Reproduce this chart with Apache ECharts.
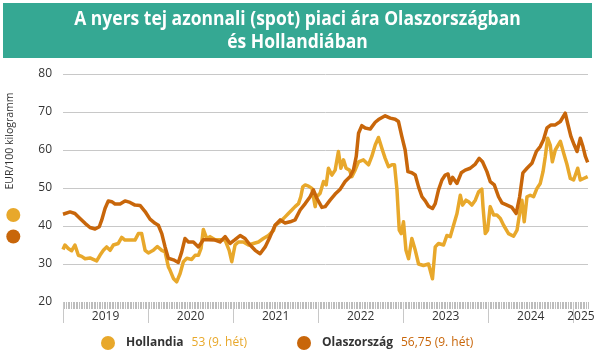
<!DOCTYPE html>
<html>
<head>
<meta charset="utf-8">
<script src="https://cdn.jsdelivr.net/npm/echarts@6/dist/echarts.min.js"></script>
<style>
  html, body { margin: 0; padding: 0; background: #fff; }
  #chart { width: 598px; height: 352px; }
</style>
</head>
<body>
<div id="chart"></div>
<script>
// weeks counted from 2019 week 1 (52 weeks per year), values in EUR/100 kg
var years = ['2019', '2020', '2021', '2022', '2023', '2024', '2025'];
var yTicks = [20, 30, 40, 50, 60, 70, 80];

var hollandWeeks = [0, 1.2, 3.2, 5.3, 7.3, 9.4, 11.4, 13.5, 16.5, 18.5, 20.6, 22.6, 24.7, 26.7, 28.8, 30.8, 33.8, 35.9, 37.9, 41, 44, 46.1, 48.1, 50.2, 52.2, 55.2, 57.7, 60.4, 62.4, 64.4, 65.4, 67.5, 69.5, 71.6, 73.6, 75.7, 78.7, 80.8, 82.8, 84.4, 85.8, 87.9, 89.9, 93, 96, 99.1, 101.6, 103.2, 105.2, 107.2, 110.3, 113.4, 116.4, 119.5, 122.5, 125.6, 128.7, 129.7, 132.8, 135.8, 137.8, 139.9, 141.9, 144, 145.4, 146.6, 148.1, 150.1, 152.2, 154.2, 155.2, 157.2, 159.3, 160.9, 162.3, 164.4, 166.4, 168.4, 169.9, 171.5, 173.1, 175.2, 176.6, 178.6, 180.7, 183.7, 186.8, 188.8, 190.9, 192.9, 195.3, 197, 199, 201.1, 202.7, 204.2, 205.6, 206.8, 208.2, 209.7, 211.3, 213.3, 215.4, 217.4, 220.4, 223.5, 225.9, 227.6, 229.6, 232.7, 234.7, 236.8, 238.8, 240.9, 242.9, 244.3, 246.4, 248, 250, 252.1, 254.1, 256.1, 256.8, 258.2, 259.6, 261.2, 263.3, 265.3, 267.4, 269.4, 272.4, 275.5, 277.6, 279.2, 280.6, 282, 283.7, 285.7, 287.7, 289.8, 291.8, 293.5, 294.9, 296.3, 297.9, 299.2, 301, 304.1, 306.1, 308.2, 310.2, 312.2, 314.7, 316.3, 318.3, 320.8];
var hollandValues = [33.8, 35, 34.1, 33.5, 35, 32.3, 32, 31.4, 31.6, 31.2, 30.8, 32.3, 33.6, 34.5, 33.6, 35, 35.4, 37, 36.3, 36.3, 36.3, 38, 38, 33.6, 32.9, 33.6, 34.6, 33.6, 33.2, 29.3, 28.4, 26.2, 25.3, 27.5, 30.6, 31.5, 31.2, 32.3, 32.3, 34.1, 39.1, 36.7, 37.2, 36.4, 36.4, 36.3, 33.6, 30.6, 35, 35.8, 35.8, 35, 35.4, 35.8, 36.7, 37.5, 38.8, 40.2, 41.1, 42.4, 43.3, 44.2, 45.1, 45.9, 47.7, 50.3, 50.8, 50.5, 49.9, 45.1, 47.7, 48.6, 51.7, 50.8, 55.2, 53.4, 54.7, 59.6, 55.2, 57.4, 55.2, 54.7, 53, 54.7, 56.9, 57.4, 56.1, 58.3, 61.3, 63.3, 60, 57.8, 55.6, 56.1, 56.1, 49.5, 38.9, 38, 41.1, 33.6, 31.4, 36.7, 33.6, 30, 29.6, 30, 26.1, 34.5, 35.4, 35, 37.5, 37.2, 40.2, 43.3, 48.1, 45.5, 46.8, 46.4, 45.5, 46.8, 49, 49.7, 45.1, 38, 38.9, 45.1, 42.9, 42.9, 42, 40.2, 38, 37.3, 38.9, 43.3, 46.8, 41.1, 47.7, 48.1, 47.7, 49.9, 51.2, 54.3, 58.3, 63.1, 61.3, 56.9, 60, 62.3, 59.2, 56.1, 52.5, 52.1, 55.2, 52.1, 52.5, 53];

var olaszWeeks = [0, 4.3, 7.3, 10.4, 13.5, 16.5, 19.6, 22.2, 23.7, 25.7, 27.7, 29.8, 31.8, 34.9, 37.9, 41, 44, 47.1, 50.2, 53.2, 56.3, 58.3, 60.4, 62.4, 64.4, 67.5, 70.5, 72.6, 74.6, 76.7, 79.7, 82.8, 85.8, 88.9, 93, 96, 99.1, 102.2, 105.2, 108.3, 111.3, 114.4, 117.5, 120.5, 123.6, 126.6, 129.7, 132.8, 135.8, 138.9, 141.9, 145, 148.1, 151.1, 153.1, 155.2, 158.3, 160.3, 163.3, 166.4, 169.5, 172.5, 175.6, 177.6, 179.3, 180.7, 182.7, 184.8, 187.8, 190.9, 192.9, 197, 200.1, 203.1, 205.1, 207.2, 209.2, 210.9, 213.3, 215.4, 217.4, 219.5, 221.5, 223.5, 225.9, 227.6, 229.6, 231.7, 233.7, 235.4, 236.8, 238.2, 240.9, 243.5, 245.9, 249, 252.1, 254.5, 256.5, 259.2, 261.2, 263.7, 266.3, 268.4, 271.5, 274.5, 277.1, 279.2, 281.2, 283.7, 286.7, 289.4, 291.8, 293.8, 295.9, 298.4, 301, 304.1, 307.1, 308.5, 310.6, 312.6, 314.3, 316.3, 317.9, 319.4, 320.8];
var olaszValues = [43.1, 43.7, 43.3, 42, 40.7, 39.6, 39.2, 39.8, 41.6, 44.6, 46.6, 46.4, 45.8, 45.8, 46.6, 46.2, 45.5, 45.4, 43.8, 41.8, 40.7, 40.2, 38, 34.5, 31.5, 31.1, 30.4, 33.2, 36.7, 35.8, 35.8, 34.5, 36.4, 36.4, 36.3, 35.8, 37.2, 35.4, 36.4, 37.5, 36.7, 35, 33.6, 32.7, 34.5, 37.2, 40.2, 41.6, 40.8, 41.1, 41.6, 44.2, 45.9, 47.7, 49.5, 47.3, 44.9, 45.1, 46.8, 48.4, 49.7, 51.7, 53, 54.8, 58.3, 64.4, 66.4, 65.8, 65.5, 67.3, 68, 69, 68.4, 68.1, 67.5, 63.5, 60, 54.3, 54, 53.4, 50.3, 47.7, 46.6, 45.2, 44.6, 45.9, 49.5, 52.1, 53.4, 53.7, 51.2, 52.8, 51.2, 54, 54.7, 55.2, 56.3, 57.8, 56.9, 54.3, 51.7, 50.8, 47.7, 46.1, 45.5, 44.9, 43.3, 47.7, 54, 55.2, 56.5, 59.6, 60.9, 62.7, 65.8, 66.6, 66.6, 67.5, 69.7, 67.1, 63.5, 61.3, 59.6, 63.1, 60.9, 58.3, 56.75];

var lastWeekLabel = '9. hét';
var colorHolland = '#E8A82B';
var colorOlasz = '#C8660A';

function pairs(xs, ys) {
  return xs.map(function (x, i) { return [x, ys[i]]; });
}
function huNum(v) {
  return String(v).replace('.', ',');
}

var totalWeeks = 321;
var yearStarts = years.map(function (y, i) { return i * 52; });
var yearLabelPos = years.map(function (y, i) {
  return i < years.length - 1 ? i * 52 + 26 : 316.7;
});

var chart = echarts.init(document.getElementById('chart'));
var font = '"Open Sans", sans-serif';

var option = {
  backgroundColor: '#fff',
  animation: false,
  textStyle: { fontFamily: font },
  grid: { left: 63, right: 10, top: 74, bottom: 50 },
  legend: {
    left: 101,
    top: 336,
    padding: 0,
    icon: 'circle',
    itemWidth: 14,
    itemHeight: 14,
    itemGap: 50,
    data: ['Hollandia', 'Olaszország'],
    formatter: function (name) {
      if (name === 'Hollandia') {
        return '{n|Hollandia}{h|' + huNum(hollandValues[hollandValues.length - 1]) + ' (' + lastWeekLabel + ')}';
      }
      return '{n|Olaszország}{o|' + huNum(olaszValues[olaszValues.length - 1]) + ' (' + lastWeekLabel + ')}';
    },
    textStyle: {
      fontFamily: font,
      padding: [0, 0, 0, 6],
      rich: {
        n: { fontFamily: font, fontSize: 12, fontWeight: 'bold', color: '#333', padding: [0, 8, 0, 0] },
        h: { fontFamily: font, fontSize: 12, color: colorHolland },
        o: { fontFamily: font, fontSize: 12, color: colorOlasz }
      }
    }
  },
  xAxis: [
    {
      type: 'value',
      position: 'bottom',
      offset: 0,
      min: 0,
      max: totalWeeks,
      interval: 1,
      axisLine: { show: false },
      axisTick: { show: true, length: 7, lineStyle: { color: '#bdbdbd', width: 1 } },
      axisLabel: { show: false },
      splitLine: { show: false }
    },
    {
      type: 'value',
      position: 'bottom',
      offset: 0,
      min: 0,
      max: totalWeeks,
      axisLine: { show: false },
      axisTick: { show: true, length: 21, customValues: yearStarts, lineStyle: { color: '#c8c8c8', width: 1 } },
      axisLabel: {
        show: true,
        customValues: yearLabelPos,
        margin: 9,
        fontSize: 12,
        color: '#333',
        fontFamily: font,
        formatter: function (v) { return years[Math.floor(v / 52)]; }
      },
      splitLine: { show: false }
    }
  ],
  yAxis: {
    type: 'value',
    min: yTicks[0],
    max: yTicks[yTicks.length - 1],
    interval: 10,
    axisLine: { show: false },
    axisTick: { show: false },
    axisLabel: { fontSize: 12, color: '#333', margin: 11, fontFamily: font },
    splitLine: { show: true, showMinLine: false, lineStyle: { color: '#c8c8c8', width: 1 } }
  },
  series: [
    {
      name: 'Hollandia',
      type: 'line',
      xAxisIndex: 0,
      data: pairs(hollandWeeks, hollandValues),
      showSymbol: false,
      itemStyle: { color: colorHolland },
      lineStyle: { color: colorHolland, width: 3.5, join: 'round' }
    },
    {
      name: 'Olaszország',
      type: 'line',
      xAxisIndex: 0,
      data: pairs(olaszWeeks, olaszValues),
      showSymbol: false,
      itemStyle: { color: colorOlasz },
      lineStyle: { color: colorOlasz, width: 3.5, join: 'round' }
    }
  ],
  graphic: [
    { type: 'rect', left: 3, top: 3, shape: { width: 589, height: 55 }, style: { fill: '#35A893' } },
    {
      type: 'text', x: 297.5, y: 20, scaleX: 0.92,
      style: { text: 'A nyers tej azonnali (spot) piaci ára Olaszországban', fill: '#fff', font: 'bold 19px "Open Sans"', textAlign: 'center', textVerticalAlign: 'middle' }
    },
    {
      type: 'text', x: 297.5, y: 43, scaleX: 0.92,
      style: { text: 'és Hollandiában', fill: '#fff', font: 'bold 19px "Open Sans"', textAlign: 'center', textVerticalAlign: 'middle' }
    },
    {
      type: 'text', x: 10, y: 141, rotation: Math.PI / 2,
      style: { text: 'EUR/100 kilogramm', fill: '#333', font: '10.5px "Open Sans"', textAlign: 'center', textVerticalAlign: 'middle' }
    },
    { type: 'circle', shape: { cx: 13.3, cy: 215, r: 7 }, style: { fill: colorHolland } },
    { type: 'circle', shape: { cx: 13.3, cy: 236.5, r: 7 }, style: { fill: colorOlasz } }
  ]
};

chart.setOption(option);
</script>
</body>
</html>
